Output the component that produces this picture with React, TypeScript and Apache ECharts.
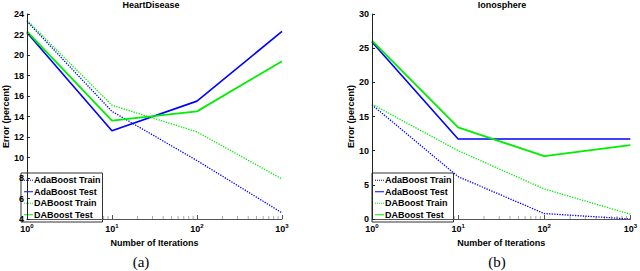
import React, { useEffect, useRef } from "react";
import * as echarts from "echarts";

const iterations = [1, 10, 100, 1000];
const seriesNames = ["AdaBoost Train", "AdaBoost Test", "DABoost Train", "DABoost Test"];

const heartAdaTrain = [23.3, 14.5, 9.7, 4.6];
const heartAdaTest = [22.2, 12.6, 15.5, 22.3];
const heartDaTrain = [23.4, 15.1, 12.5, 7.9];
const heartDaTest = [22.3, 13.6, 14.5, 19.4];

const ionoAdaTrain = [16.7, 6.2, 0.8, 0];
const ionoAdaTest = [25.9, 11.7, 11.7, 11.7];
const ionoDaTrain = [16.8, 10, 4.4, 0.7];
const ionoDaTest = [26.1, 13.4, 9.2, 10.8];

// log-spaced minor tick positions on the iteration axis
const minorTickValues = [2, 3, 4, 5, 6, 7, 8, 9, 20, 30, 40, 50, 60, 70, 80, 90, 200, 300, 400, 500, 600, 700, 800, 900];

const titles = ["HeartDisease", "Ionosphere"];
const captions = ["(a)", "(b)"];
const yName = "Error (percent)";
const xName = "Number of Iterations";

const BLUE = "#0000ff";
const GREEN = "#00ee00";
const FONT = "Liberation Sans";

const SOLID_ICON = "path://M0,0h9v1h-9z";
const DOT_ICON =
  "path://M0,0h1v1h-1z M2,0h1v1h-1z M4,0h1v1h-1z M6,0h1v1h-1z M8,0h1v1h-1z";

const pairs = (vals: number[]) => iterations.map((x, i) => [x, vals[i]]);

const styles = [
  { color: BLUE, type: "dotted", width: 1.3 },
  { color: BLUE, type: "solid", width: 1.6 },
  { color: GREEN, type: "dotted", width: 1.3 },
  { color: GREEN, type: "solid", width: 1.8 },
];

function makeSeries(idx: number, sets: number[][], yMin: number) {
  const lines: any[] = sets.map((vals, i) => ({
    type: "line",
    name: seriesNames[i],
    xAxisIndex: idx,
    yAxisIndex: idx,
    data: pairs(vals),
    symbol: "none",
    color: styles[i].color,
    lineStyle: { color: styles[i].color, type: styles[i].type, width: styles[i].width },
    z: 3,
  }));
  lines.push({
    type: "scatter",
    name: "minorTicks" + idx,
    xAxisIndex: idx,
    yAxisIndex: idx,
    data: minorTickValues.map((v) => [v, yMin]),
    symbol: "rect",
    symbolSize: [0.8, 3],
    symbolOffset: [0, -1.5],
    itemStyle: { color: "#777" },
    silent: true,
    z: 1,
  });
  return lines;
}

function xAxisCfg(idx: number) {
  return {
    type: "log",
    logBase: 10,
    gridIndex: idx,
    min: 1,
    max: 1000,
    name: xName,
    nameLocation: "middle",
    nameGap: 15,
    nameTextStyle: { fontFamily: FONT, fontWeight: "bold", fontSize: 9, color: "#000" },
    axisLine: { show: true, lineStyle: { color: "#555", width: 1 } },
    axisTick: { show: true, inside: true, length: 4, lineStyle: { color: "#555" } },
    minorTick: { show: false },
    splitLine: { show: false },
    z: 5,
    axisLabel: {
      margin: 4,
      fontFamily: FONT,
      fontWeight: "bold",
      fontSize: 9,
      color: "#000",
      formatter: (v: number) => "10{sup|" + Math.round(Math.log10(v)) + "}",
      rich: { sup: { fontSize: 6, fontFamily: FONT, fontWeight: "bold", verticalAlign: "top", padding: [0, 0, 6, 0], color: "#000" } },
    },
  };
}

function yAxisCfg(idx: number, min: number, max: number, interval: number) {
  return {
    type: "value",
    gridIndex: idx,
    min,
    max,
    interval,
    name: yName,
    nameLocation: "middle",
    nameGap: 15,
    nameTextStyle: { fontFamily: FONT, fontWeight: "bold", fontSize: 9, color: "#000" },
    axisLine: { show: true, lineStyle: { color: "#222", width: 1 } },
    axisTick: { show: true, inside: true, length: 3, lineStyle: { color: "#222" } },
    splitLine: { show: false },
    z: 10,
    axisLabel: { margin: 3, fontFamily: FONT, fontWeight: "bold", fontSize: 9, color: "#000" },
  };
}

function legendCfg(left: number) {
  return {
    show: true,
    orient: "vertical",
    left,
    top: 173,
    z: 4,
    data: seriesNames.map((n, i) => ({ name: n, icon: styles[i].type === "dotted" ? DOT_ICON : SOLID_ICON })),
    borderColor: "#333",
    borderWidth: 1,
    padding: [2, 2, 2, 3],
    itemGap: 1,
    itemWidth: 9,
    itemHeight: 2,
    backgroundColor: "#fff",
    textStyle: { fontFamily: FONT, fontWeight: "bold", fontSize: 9, color: "#000", padding: [0, 0, 0, -4], lineHeight: 10.5 },
  };
}

export default function App() {
  const ref = useRef<HTMLDivElement>(null);
  useEffect(() => {
    document.body.style.margin = "0";
    if (!ref.current) return;
    const chart = echarts.init(ref.current, undefined, { renderer: "svg" });
    chart.setOption({
      animation: false,
      backgroundColor: "#fff",
      grid: [
        { left: 21, right: 358, top: 14, bottom: 52 },
        { left: 372, right: 7, top: 14, bottom: 52 },
      ],
      xAxis: [xAxisCfg(0), xAxisCfg(1)],
      yAxis: [yAxisCfg(0, 4, 24, 2), yAxisCfg(1, 0, 30, 5)],
      legend: [legendCfg(21), legendCfg(372)],
      series: [
        ...makeSeries(0, [heartAdaTrain, heartAdaTest, heartDaTrain, heartDaTest], 4),
        ...makeSeries(1, [ionoAdaTrain, ionoAdaTest, ionoDaTrain, ionoDaTest], 0),
      ],
      graphic: [
        { type: "text", x: 151, y: 0, style: { text: titles[0], align: "center", verticalAlign: "top", fontFamily: FONT, fontWeight: "bold", fontSize: 9, fill: "#000" } },
        { type: "text", x: 502, y: 0, style: { text: titles[1], align: "center", verticalAlign: "top", fontFamily: FONT, fontWeight: "bold", fontSize: 9, fill: "#000" } },
        { type: "text", x: 141, y: 262, style: { text: captions[0], align: "center", verticalAlign: "middle", fontFamily: "Liberation Serif", fontSize: 15, fill: "#000" } },
        { type: "text", x: 497, y: 262, style: { text: captions[1], align: "center", verticalAlign: "middle", fontFamily: "Liberation Serif", fontSize: 15, fill: "#000" } },
      ],
    });
    return () => chart.dispose();
  }, []);
  return <div ref={ref} style={{ width: 640, height: 271 }} />;
}
